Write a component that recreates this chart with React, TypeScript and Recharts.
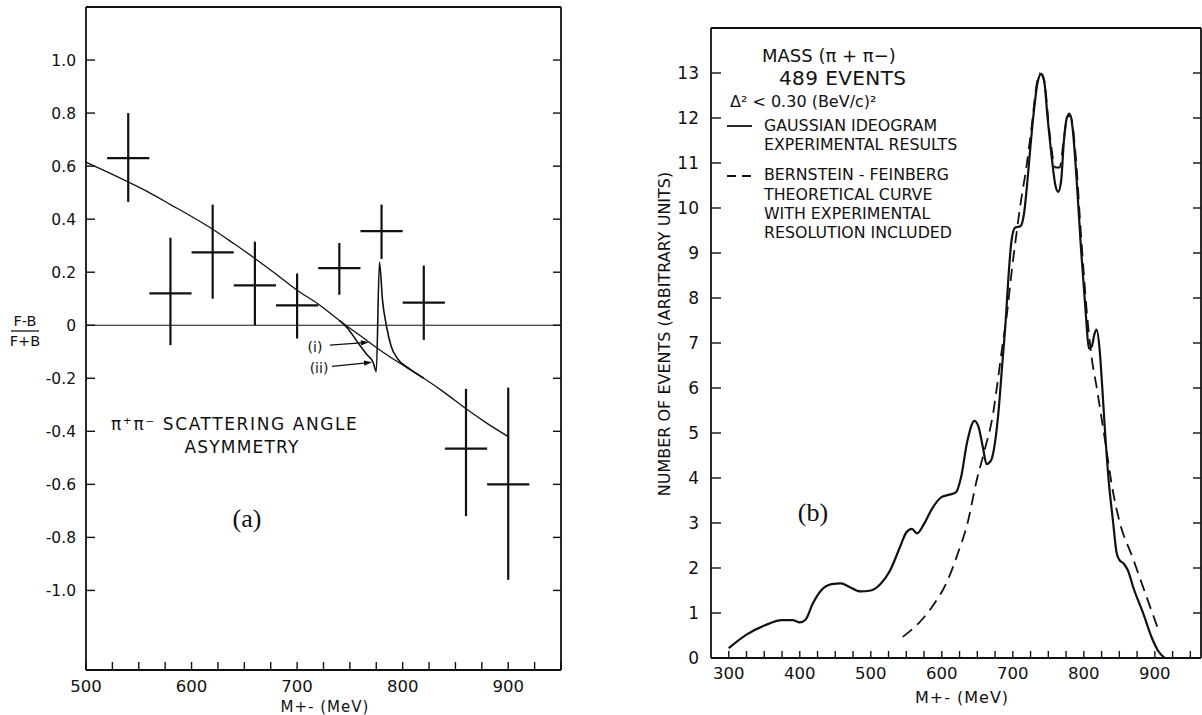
import React from 'react';
import { ComposedChart, Line, Scatter, ErrorBar, XAxis, YAxis, ReferenceLine } from 'recharts';

// ---- panel (a): pi+ pi- scattering angle asymmetry ----
const binMass = [540, 580, 620, 660, 700, 740, 780, 820, 860, 900];
const asymmetry = [0.63, 0.12, 0.275, 0.15, 0.075, 0.215, 0.355, 0.085, -0.465, -0.6];
const asymmetryLow = [0.465, -0.075, 0.1, 0.0, -0.05, 0.115, 0.25, -0.055, -0.72, -0.96];
const asymmetryHigh = [0.8, 0.33, 0.455, 0.315, 0.195, 0.31, 0.455, 0.225, -0.24, -0.235];
const binHalfWidth = [20, 20, 20, 20, 20, 20, 20, 20, 20, 20];

// curve (i)
const curveIMass = [500, 520, 540, 560, 580, 600, 620, 640, 660, 680, 700, 720, 740, 760, 780, 800, 820, 840, 860, 880, 900];
const curveI = [0.615, 0.578, 0.54, 0.5, 0.455, 0.41, 0.362, 0.308, 0.252, 0.193, 0.132, 0.08, 0.018, -0.04, -0.098, -0.15, -0.2, -0.255, -0.315, -0.37, -0.42];

// curve (ii)
const curveIIMass = [740, 748, 758, 766, 772, 775, 778, 781, 784.5, 789, 795.5, 805, 820];
const curveII = [0.018, -0.012, -0.068, -0.11, -0.14, -0.175, 0.237, 0.09, 0.0, -0.078, -0.128, -0.16, -0.2];

const asymTicks = [-1.0, -0.8, -0.6, -0.4, -0.2, 0, 0.2, 0.4, 0.6, 0.8, 1.0];
const massTicksA = [500, 525, 550, 575, 600, 625, 650, 675, 700, 725, 750, 775, 800, 825, 850, 875, 900, 925, 950];

// ---- panel (b): mass spectrum ----
const ideogramMass = [300, 325, 350, 375, 390, 400, 408, 418, 430, 445, 458, 470, 485, 500, 514, 527, 541, 550, 558, 565, 575, 586, 600, 611, 620, 627, 636, 646, 652, 658, 663, 669, 677, 680, 685, 690, 694, 698, 703, 711, 716, 720, 725, 730, 735, 740, 744, 749, 755, 760, 764, 768, 772, 776, 780, 784, 790, 796, 803, 807, 811, 815, 818, 822, 826, 830, 835, 841, 846, 850, 856, 862, 870, 883, 896, 905, 914];
const ideogram = [0.22, 0.52, 0.72, 0.84, 0.84, 0.79, 0.85, 1.2, 1.5, 1.64, 1.66, 1.58, 1.48, 1.5, 1.65, 1.94, 2.46, 2.79, 2.87, 2.77, 2.98, 3.31, 3.58, 3.63, 3.68, 4.01, 4.82, 5.27, 5.12, 4.67, 4.31, 4.38, 5.04, 5.5, 6.5, 7.5, 8.5, 9.25, 9.56, 9.6, 9.9, 10.5, 11.4, 12.2, 12.8, 12.98, 12.84, 12.0, 11.1, 10.5, 10.36, 10.6, 11.5, 12.0, 12.1, 11.8, 10.6, 9.1, 7.6, 6.88, 6.92, 7.2, 7.3, 6.9, 6.0, 5.0, 3.94, 3.05, 2.35, 2.18, 2.1, 1.95, 1.55, 1.02, 0.44, 0.15, 0.0];

const theoryMass = [545, 569, 586, 608, 624, 636, 649, 660, 672, 680, 685, 691, 699, 705, 710, 719, 727, 733, 738, 744, 752, 760, 766, 771, 777, 781, 788, 796, 805, 810, 819, 830, 841, 850, 869, 889, 904];
const theory = [0.47, 0.8, 1.13, 1.72, 2.39, 2.98, 3.94, 4.6, 5.41, 6.3, 6.9, 7.55, 8.67, 9.41, 10.0, 10.9, 11.87, 12.69, 12.99, 12.84, 11.64, 10.9, 10.9, 11.42, 12.02, 12.05, 11.27, 9.41, 7.55, 6.8, 5.93, 4.82, 3.7, 3.05, 2.22, 1.33, 0.67];

const eventTicks = [0, 1, 2, 3, 4, 5, 6, 7, 8, 9, 10, 11, 12, 13];
const massTicksB = [300, 325, 350, 375, 400, 425, 450, 475, 500, 525, 550, 575, 600, 625, 650, 675, 700, 725, 750, 775, 800, 825, 850, 875, 900, 925, 950];

const pointsA = binMass.map((m, i) => ({
  x: m,
  y: asymmetry[i],
  yErr: [asymmetry[i] - asymmetryLow[i], asymmetryHigh[i] - asymmetry[i]],
  xErr: binHalfWidth[i],
}));
const curveIData = curveIMass.map((m, i) => ({ x: m, y: curveI[i] }));
const curveIIData = curveIIMass.map((m, i) => ({ x: m, y: curveII[i] }));
const ideogramData = ideogramMass.map((m, i) => ({ x: m, y: ideogram[i] }));
const theoryData = theoryMass.map((m, i) => ({ x: m, y: theory[i] }));

const ink = '#111';
const sans = '"DejaVu Sans", sans-serif';
const serif = '"Liberation Serif", "DejaVu Serif", serif';
const axisLine = { stroke: ink, strokeWidth: 1.8 };
const tickLine = { stroke: ink, strokeWidth: 1.4 };

const NoMark = () => <g />;
const NoTick = () => <g />;

function Arrow(props: any) {
  const { x1, y1, x2, y2 } = props;
  const a = Math.atan2(y2 - y1, x2 - x1);
  const len = 8;
  const half = 2.6;
  const bx = x2 - len * Math.cos(a);
  const by = y2 - len * Math.sin(a);
  const pts = `${x2},${y2} ${bx + half * Math.sin(a)},${by - half * Math.cos(a)} ${bx - half * Math.sin(a)},${by + half * Math.cos(a)}`;
  return (
    <g>
      <line x1={x1} y1={y1} x2={bx} y2={by} stroke={ink} strokeWidth={1.2} />
      <polygon points={pts} fill={ink} />
    </g>
  );
}

function PanelA() {
  return (
    <ComposedChart width={600} height={715} margin={{ top: 0, right: 0, bottom: 0, left: 0 }}>
      <XAxis xAxisId="b" type="number" dataKey="x" domain={[500, 950]} ticks={massTicksA} interval={0}
        allowDataOverflow height={45} tickSize={-8} tickMargin={18} axisLine={axisLine} tickLine={tickLine}
        tick={{ fill: ink, fontSize: 16.5, fontFamily: sans }}
        tickFormatter={(v: number) => (v % 100 === 0 && v < 950 ? String(v) : '')} />
      <XAxis xAxisId="t" orientation="top" type="number" domain={[500, 950]} ticks={massTicksA} interval={0}
        allowDataOverflow height={7} tickSize={-8} axisLine={axisLine} tickLine={tickLine} tick={NoTick} />
      <YAxis yAxisId="l" type="number" dataKey="y" domain={[-1.3, 1.2]} ticks={asymTicks} interval={0}
        allowDataOverflow width={86} tickSize={-9} tickMargin={19} axisLine={axisLine} tickLine={tickLine}
        tick={{ fill: ink, fontSize: 15.5, fontFamily: sans }}
        tickFormatter={(v: number) => (v === 0 ? '0' : v.toFixed(1))} />
      <YAxis yAxisId="r" orientation="right" type="number" domain={[-1.3, 1.2]} ticks={asymTicks} interval={0}
        allowDataOverflow width={39} tickSize={-8} axisLine={axisLine} tickLine={tickLine} tick={NoTick} />
      <ReferenceLine xAxisId="b" yAxisId="l" y={0} stroke={ink} strokeWidth={1} />
      <Line xAxisId="b" yAxisId="l" data={curveIData} dataKey="y" type="monotone" dot={false}
        stroke={ink} strokeWidth={1.3} isAnimationActive={false} />
      <Line xAxisId="b" yAxisId="l" data={curveIIData} dataKey="y" type="monotone" dot={false}
        stroke={ink} strokeWidth={1.6} isAnimationActive={false} />
      <Scatter xAxisId="b" yAxisId="l" data={pointsA} dataKey="y" shape={NoMark} isAnimationActive={false}>
        <ErrorBar dataKey="yErr" direction="y" width={0} stroke={ink} strokeWidth={2.2} />
        <ErrorBar dataKey="xErr" direction="x" width={0} stroke={ink} strokeWidth={2.2} />
      </Scatter>
      <ReferenceLine xAxisId="b" yAxisId="l" segment={[{ x: 731, y: -0.075 }, { x: 768, y: -0.064 }]} shape={Arrow} />
      <ReferenceLine xAxisId="b" yAxisId="l" segment={[{ x: 733, y: -0.155 }, { x: 771, y: -0.14 }]} shape={Arrow} />
    </ComposedChart>
  );
}

function PanelB() {
  return (
    <ComposedChart width={602} height={715} margin={{ top: 0, right: 0, bottom: 0, left: 0 }}>
      <XAxis xAxisId="b" type="number" dataKey="x" domain={[275, 965]} ticks={massTicksB} interval={0}
        allowDataOverflow height={57} tickSize={-7} tickMargin={16} axisLine={axisLine} tickLine={tickLine}
        tick={{ fill: ink, fontSize: 16.5, fontFamily: sans }}
        tickFormatter={(v: number) => (v % 100 === 0 && v <= 900 ? String(v) : '')} />
      <XAxis xAxisId="t" orientation="top" type="number" domain={[275, 965]} ticks={massTicksB} interval={0}
        allowDataOverflow height={28} tickSize={-7} axisLine={axisLine} tickLine={tickLine} tick={NoTick} />
      <YAxis yAxisId="l" type="number" dataKey="y" domain={[0, 14]} ticks={eventTicks} interval={0}
        allowDataOverflow width={111} tickSize={-10} tickMargin={22} axisLine={axisLine} tickLine={tickLine}
        tick={{ fill: ink, fontSize: 17, fontFamily: sans }} />
      <YAxis yAxisId="r" orientation="right" type="number" domain={[0, 14]} ticks={eventTicks} interval={0}
        allowDataOverflow width={1} tickSize={-8} axisLine={axisLine} tickLine={tickLine} tick={NoTick} />
      <Line xAxisId="b" yAxisId="l" data={theoryData} dataKey="y" type="monotone" dot={false}
        stroke={ink} strokeWidth={1.8} strokeDasharray="12 7" isAnimationActive={false} />
      <Line xAxisId="b" yAxisId="l" data={ideogramData} dataKey="y" type="monotone" dot={false}
        stroke={ink} strokeWidth={2.2} isAnimationActive={false} />
    </ComposedChart>
  );
}

export default function App() {
  return (
    <div style={{ position: 'absolute', left: 0, top: 0, width: 1202, height: 715, background: '#fff' }}>
      <div style={{ position: 'absolute', left: 0, top: 0 }}>
        <PanelA />
      </div>
      <div style={{ position: 'absolute', left: 600, top: 0 }}>
        <PanelB />
      </div>
      <svg width={1202} height={715} style={{ position: 'absolute', left: 0, top: 0, pointerEvents: 'none' }}
        fontFamily={sans} fill={ink}>
        {/* panel (a) */}
        <text x={25} y={326} fontSize={14.5} textAnchor="middle">F-B</text>
        <line x1={11} y1={331} x2={39} y2={331} stroke={ink} strokeWidth={1.3} />
        <text x={25} y={346} fontSize={14.5} textAnchor="middle">F+B</text>
        <text x={111} y={430} fontSize={17} letterSpacing={1.6}>π⁺π⁻ SCATTERING ANGLE</text>
        <text x={242} y={453} fontSize={17} letterSpacing={1.2} textAnchor="middle">ASYMMETRY</text>
        <text x={247} y={527} fontSize={26} fontFamily={serif} textAnchor="middle">(a)</text>
        <text x={315} y={352} fontSize={14} textAnchor="middle">(i)</text>
        <text x={319} y={373} fontSize={14} textAnchor="middle">(ii)</text>
        <text x={325} y={712} fontSize={15} textAnchor="middle" letterSpacing={1}>M+- (MeV)</text>
        {/* panel (b) */}
        <text x={762} y={62} fontSize={18}>MASS (π + π−)</text>
        <text x={779} y={85} fontSize={20} letterSpacing={0.4}>489 EVENTS</text>
        <text x={730} y={107} fontSize={16}>Δ² &lt; 0.30 (BeV/c)²</text>
        <line x1={727} y1={126} x2={752} y2={126} stroke={ink} strokeWidth={1.8} />
        <text x={764} y={131} fontSize={15.8}>GAUSSIAN IDEOGRAM</text>
        <text x={764} y={150} fontSize={15.8}>EXPERIMENTAL RESULTS</text>
        <line x1={727} y1={176} x2={752} y2={176} stroke={ink} strokeWidth={1.8} strokeDasharray="9 6" />
        <text x={764} y={180} fontSize={15.8}>BERNSTEIN - FEINBERG</text>
        <text x={764} y={200} fontSize={15.8}>THEORETICAL CURVE</text>
        <text x={764} y={219} fontSize={15.8}>WITH EXPERIMENTAL</text>
        <text x={764} y={238} fontSize={15.8}>RESOLUTION INCLUDED</text>
        <text x={813} y={521} fontSize={26} fontFamily={serif} textAnchor="middle">(b)</text>
        <text x={962} y={703} fontSize={16} textAnchor="middle" letterSpacing={1}>M+- (MeV)</text>
        <text x={670} y={334} fontSize={16} textAnchor="middle" transform="rotate(-90 670 334)">
          NUMBER OF EVENTS (ARBITRARY UNITS)
        </text>
      </svg>
    </div>
  );
}
